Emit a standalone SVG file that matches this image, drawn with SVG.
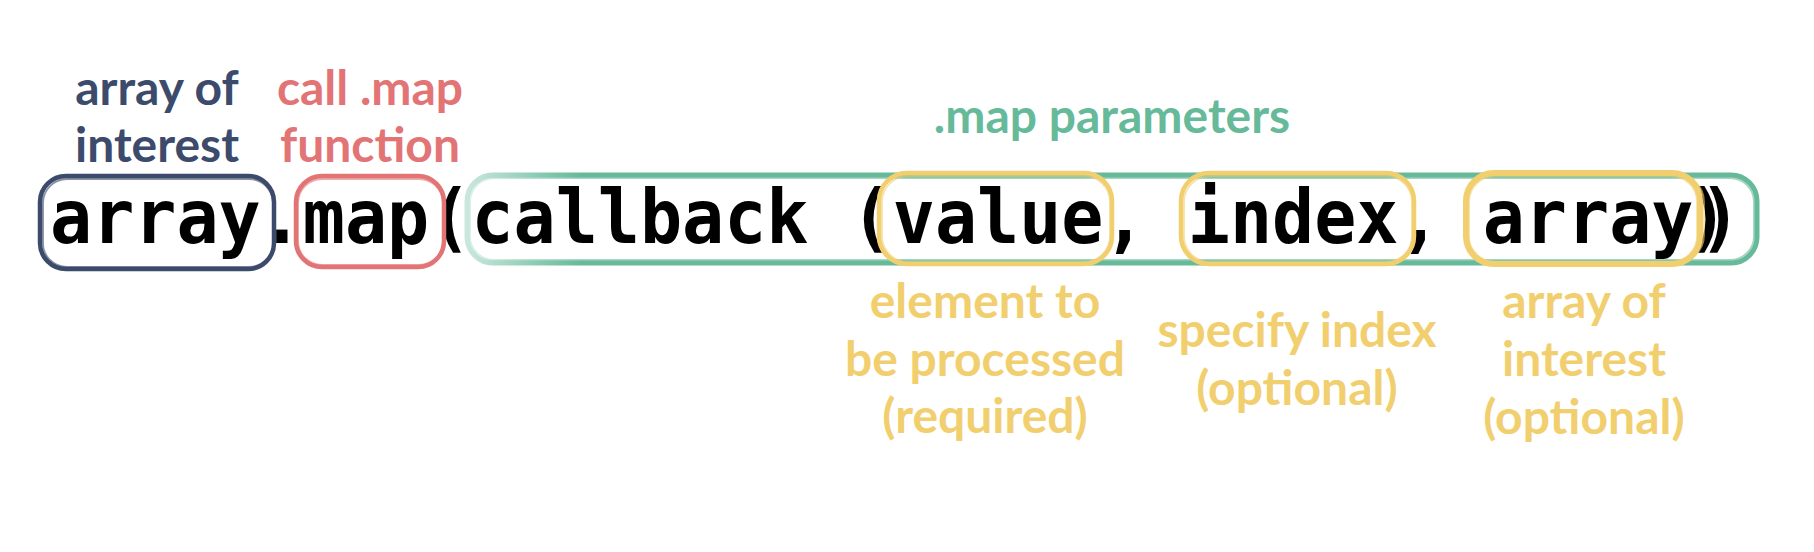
<svg xmlns="http://www.w3.org/2000/svg" width="1814" height="552" viewBox="0 0 1814 552">
  <style>
    .lbl { font-family: Lato, "Open Sans", "Liberation Sans", sans-serif; font-weight: 700; font-size: 48px; text-anchor: middle; }
    .navy { fill: #3c4a6b; }
    .red { fill: #e37476; }
    .green { fill: #66ba9a; }
    .yellow { fill: #f1cf6f; }
    .code { font-family: "DejaVu Sans Mono", "Liberation Mono", monospace; font-weight: 700; font-size: 70px; fill: #000; }
    .box { fill: none; stroke-linejoin: round; }
    .b-navy { stroke: #3c4a6b; }
    .b-red { stroke: #e37476; }
    .b-yellow { stroke: #f1cf6f; }
    .main { stroke-width: 4.5; }
    .sketch { stroke-width: 1.8; opacity: 0.6; }
  </style>
  <defs>
    <linearGradient id="greenFade" gradientUnits="userSpaceOnUse" x1="467" y1="0" x2="580" y2="0">
      <stop offset="0" stop-color="#66ba9a" stop-opacity="0.35"/>
      <stop offset="1" stop-color="#66ba9a" stop-opacity="1"/>
    </linearGradient>
  </defs>

  <rect width="1814" height="552" fill="#ffffff"/>

  <!-- code line -->
  <g id="code">
    <g transform="translate(0,243) scale(1,1.07)">
      <text class="code" x="50" y="0">array.map(callback (value, index, array</text>
      <text class="code" x="1686" y="0">)</text>
      <text class="code" x="1699" y="0">)</text>
    </g>
  </g>

  <!-- annotation outlines -->
  <g id="connectors">
    <g id="box-array">
      <rect class="box b-navy main" x="40" y="176" width="234" height="93" rx="26"/>
      <rect class="box b-navy sketch" x="43" y="179" width="230" height="88" rx="24"/>
    </g>
    <g id="box-map">
      <rect class="box b-red main" x="296" y="176" width="148" height="91" rx="26"/>
      <rect class="box b-red sketch" x="298" y="179" width="145" height="86" rx="24"/>
    </g>
    <g id="box-params">
      <rect class="box" stroke-width="5" stroke="url(#greenFade)" x="467" y="175" width="1290" height="88" rx="26"/>
      <rect class="box sketch" stroke="url(#greenFade)" x="470" y="178" width="1284" height="82" rx="24"/>
    </g>
    <g id="box-value">
      <rect class="box b-yellow main" x="879" y="173" width="233" height="91" rx="28"/>
      <rect class="box b-yellow sketch" x="882" y="176" width="228" height="86" rx="26"/>
    </g>
    <g id="box-index">
      <rect class="box b-yellow main" x="1181" y="173" width="233" height="91" rx="28"/>
      <rect class="box b-yellow sketch" x="1184" y="176" width="228" height="86" rx="26"/>
    </g>
    <g id="box-array2">
      <rect class="box b-yellow" stroke-width="6" x="1466" y="173" width="234" height="91" rx="28"/>
      <rect class="box b-yellow sketch" x="1469" y="176" width="228" height="86" rx="26"/>
      <rect class="box b-yellow sketch" stroke-width="3" x="1466" y="174" width="238" height="89" rx="28"/>
    </g>
  </g>

  <!-- labels -->
  <g id="label-array">
    <text class="lbl navy" x="157" y="105">array of</text>
    <text class="lbl navy" x="157" y="162">interest</text>
  </g>
  <g id="label-map">
    <text class="lbl red" x="370" y="105">call .map</text>
    <text class="lbl red" x="370" y="162">function</text>
  </g>
  <g id="label-params">
    <text class="lbl green" x="1112" y="133">.map parameters</text>
  </g>
  <g id="label-value">
    <text class="lbl yellow" x="985" y="318">element to</text>
    <text class="lbl yellow" x="985" y="376">be processed</text>
    <text class="lbl yellow" x="985" y="433">(required)</text>
  </g>
  <g id="label-index">
    <text class="lbl yellow" x="1297" y="347">specify index</text>
    <text class="lbl yellow" x="1297" y="405">(optional)</text>
  </g>
  <g id="label-array2">
    <text class="lbl yellow" x="1584" y="318">array of</text>
    <text class="lbl yellow" x="1584" y="376">interest</text>
    <text class="lbl yellow" x="1584" y="434">(optional)</text>
  </g>
</svg>
